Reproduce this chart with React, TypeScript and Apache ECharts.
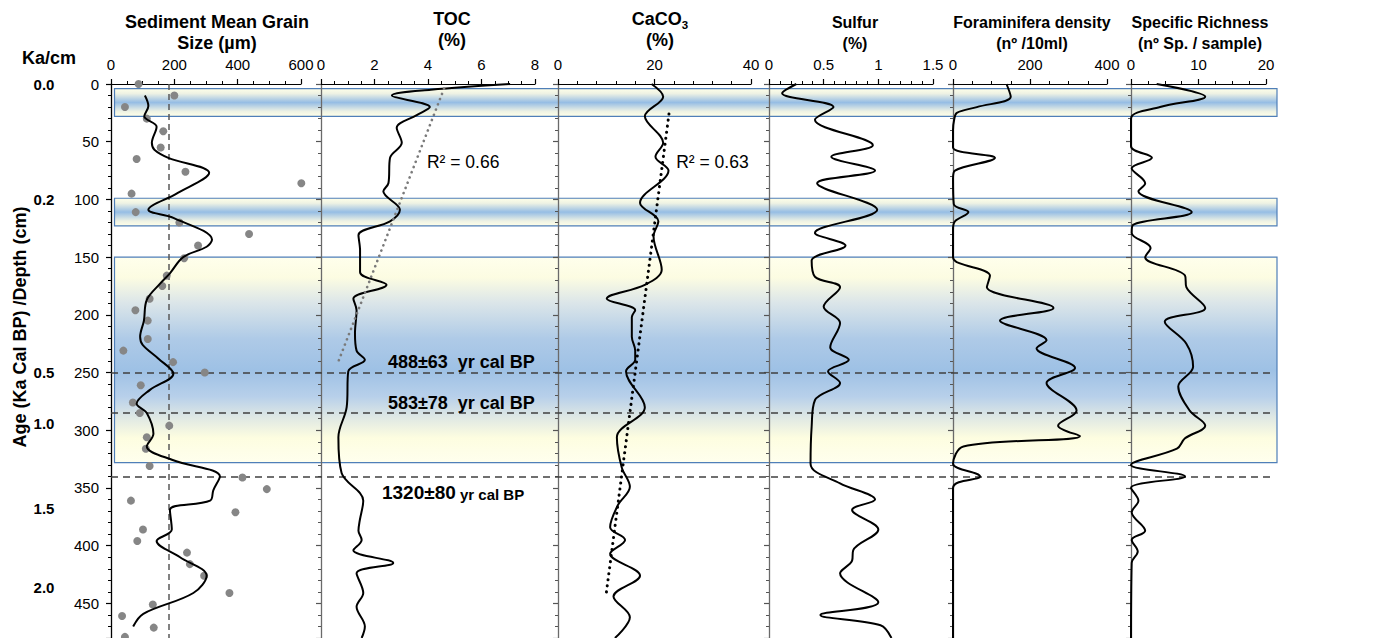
import React, { useEffect, useRef } from "react";
import * as echarts from "echarts";

// ---------- DATA ----------
const grainPtDepth = [0, 10, 20, 30, 41, 55, 65, 76, 86, 95, 111, 120, 130, 140, 151, 166, 175, 186, 196, 205, 221, 231, 241, 250, 261, 276, 285, 296, 306, 316, 331, 341, 351, 361, 371, 386, 396, 406, 416, 426, 441, 451, 461, 471, 479];
const grainPtValue = [87, 200, 44, 113, 165, 157, 81, 235, 601, 65, 78, 216, 436, 275, 231, 176, 162, 122, 77, 116, 116, 39, 196, 296, 94, 69, 91, 184, 113, 110, 122, 415, 492, 63, 393, 101, 83, 240, 249, 294, 374, 132, 35, 135, 44];

const grainLineDepth = [10, 19, 28, 37, 51, 57, 64, 77, 95, 109, 116, 135, 141, 150, 164, 173, 187, 205, 219, 226, 238, 251, 265, 277, 285, 303, 314, 326, 340, 352, 361, 369, 386, 396, 410, 426, 441, 459, 470];
const grainLineValue = [107, 118, 105, 144, 129, 137, 181, 310, 207, 118, 197, 319, 302, 228, 186, 155, 113, 104, 92, 100, 150, 197, 123, 81, 113, 134, 113, 197, 344, 323, 313, 186, 192, 144, 218, 302, 260, 102, 70];
const grainMean = [183];

const tocDepth = [0, 5, 10, 20, 27, 38, 51, 64, 86, 93, 109, 119, 131, 144, 163, 174, 186, 196, 216, 231, 239, 249, 280, 306, 337, 361, 378, 387, 395, 404, 415, 424, 441, 453, 470, 480];
const tocValue = [7.07, 4.1, 2.65, 4.07, 3.58, 2.83, 3.02, 2.58, 2.52, 2.33, 2.95, 2.58, 1.4, 1.46, 1.46, 2.45, 1.21, 1.33, 1.27, 1.33, 1.64, 1.02, 0.96, 0.65, 0.77, 1.58, 1.45, 1.4, 1.52, 1.21, 2.7, 1.33, 1.58, 1.33, 1.64, 1.52];
const tocTrendDepth = [4, 241];
const tocTrendValue = [4.6, 0.64];

const caco3Depth = [0, 11, 28, 51, 63, 75, 103, 119, 132, 161, 174, 186, 196, 202, 219, 231, 239, 249, 280, 306, 332, 349, 365, 384, 395, 407, 426, 444, 462, 480];
const caco3Value = [19.4, 21.8, 18.0, 21.8, 20.2, 22.9, 17.0, 20.8, 19.8, 21.5, 18.0, 10.1, 16.0, 15.3, 15.3, 16.0, 16.0, 14.1, 18.0, 12.2, 13.2, 14.9, 12.4, 10.8, 13.9, 10.8, 17.0, 11.5, 14.9, 11.8];
const caco3TrendDepth = [26, 443];
const caco3TrendValue = [23.0, 9.95];

const sulfurDepth = [0, 8, 20, 31, 53, 63, 75, 86, 109, 129, 140, 153, 167, 176, 193, 207, 228, 239, 249, 259, 274, 297, 329, 346, 360, 369, 386, 404, 413, 424, 449, 460, 469, 480];
const sulfurValue = [0.25, 0.12, 0.59, 0.42, 0.95, 0.57, 0.97, 0.44, 0.99, 0.42, 0.7, 0.39, 0.42, 0.65, 0.5, 0.65, 0.56, 0.73, 0.54, 0.65, 0.42, 0.39, 0.38, 0.65, 0.97, 0.76, 1.0, 0.77, 0.76, 0.65, 1.0, 0.47, 1.02, 1.12];

const foramDepth = [0, 11, 20, 25, 31, 40, 55, 64, 75, 82, 104, 111, 119, 126, 150, 166, 176, 194, 205, 222, 229, 246, 259, 283, 296, 305, 314, 329, 340, 350, 480];
const foramValue = [139, 150, 62, 10, 3, 0, 0, 109, 5, 0, 2, 40, 5, 0, 0, 96, 88, 261, 122, 243, 217, 317, 243, 321, 273, 330, 27, 0, 70, 0, 0];

const richDepth = [0, 11, 20, 30, 54, 64, 73, 86, 93, 111, 122, 129, 142, 150, 166, 176, 194, 206, 225, 245, 262, 283, 296, 307, 316, 330, 340, 350, 361, 371, 387, 395, 405, 415, 480];
const richValue = [3.8, 11.0, 4.3, 0, 0, 3.1, 0.1, 2.1, 1.1, 9.0, 0.3, 0.1, 2.9, 2.1, 8.0, 8.2, 11.0, 5.0, 8.2, 9.2, 7.0, 8.7, 11.0, 8.0, 6.8, 0, 8.0, 0, 1.1, 0.1, 2.1, 0.1, 1.0, 0.1, 0];

const bandTop = [4, 99, 150];
const bandBottom = [28, 123, 328];
const datedDepth = [250, 285, 340];

const ageLabels = ["0.0", "0.2", "0.5", "1.0", "1.5", "2.0"];
const ageDepth = [0, 100, 250, 294, 368, 436];

const dateText = ["488±63", "583±78", "1320±80"];
const dateDepth = [241, 276, 354];
const dateToc = [2.5, 2.5, 2.28];

const r2Text = ["R² = 0.66", "R² = 0.63"];
const r2Depth = [68, 68];
const r2Value = [3.96, 24.5];

const titles = [
  ["Sediment Mean Grain", "Size (µm)"],
  ["TOC", "(%)"],
  ["CaCO3", "(%)"],
  ["Sulfur", "(%)"],
  ["Foraminifera density", "(nº /10ml)"],
  ["Specific Richness", "(nº Sp. / sample)"],
];

// ---------- LAYOUT ----------
const FONT = "'Liberation Sans', Arial, Helvetica, sans-serif";
const TOP = 84;
const H = 554;
const panels = [
  { left: 111, width: 190, min: 0, max: 600, interval: 200, minor: 4, tc: 217, ty: 22, fs: 18 },
  { left: 321, width: 214, min: 0, max: 8, interval: 2, minor: 4, tc: 452, ty: 19, fs: 18 },
  { left: 558, width: 193, min: 0, max: 40, interval: 20, minor: 5, tc: 660, ty: 19, fs: 18 },
  { left: 769, width: 164, min: 0, max: 1.5, interval: 0.5, minor: 5, tc: 855, ty: 22, fs: 16 },
  { left: 953, width: 154, min: 0, max: 400, interval: 200, minor: 4, tc: 1032, ty: 22, fs: 16 },
  { left: 1131, width: 135, min: 0, max: 20, interval: 10, minor: 4, tc: 1200, ty: 22, fs: 16 },
];

const pair = (vals: number[], depths: number[]) => vals.map((v, i) => [v, depths[i]]);

const narrowGrad = () =>
  new echarts.graphic.LinearGradient(0, 0, 0, 1, [
    { offset: 0, color: "#FFFFE8" },
    { offset: 0.18, color: "#EEF2E4" },
    { offset: 0.5, color: "#96BDE4" },
    { offset: 0.82, color: "#EEF2E4" },
    { offset: 1, color: "#FFFFE8" },
  ]);
const wideGrad = () =>
  new echarts.graphic.LinearGradient(0, 0, 0, 1, [
    { offset: 0, color: "#FFFFEC" },
    { offset: 0.1, color: "#FCFCE2" },
    { offset: 0.22, color: "#DCE6E9" },
    { offset: 0.4, color: "#AECAE7" },
    { offset: 0.55, color: "#9EC1E5" },
    { offset: 0.68, color: "#B8D0EA" },
    { offset: 0.78, color: "#DFE8E4" },
    { offset: 0.88, color: "#FDFDE0" },
    { offset: 1, color: "#FFFFEE" },
  ]);

function buildOption() {
  const grid: any[] = panels.map((p) => ({ left: p.left, top: TOP, width: p.width, height: H }));
  grid.push({ left: 111, top: TOP, width: 1166, height: H });

  const xAxis: any[] = panels.map((p, i) => ({
    gridIndex: i,
    type: "value",
    position: "top",
    min: p.min,
    max: p.max,
    interval: p.interval,
    axisLine: { show: true, lineStyle: { color: "#000", width: 1.2 } },
    axisTick: { show: true, length: 5, lineStyle: { color: "#000", width: 1.2 } },
    minorTick: { show: true, splitNumber: p.minor, length: 3, lineStyle: { color: "#000", width: 1 } },
    axisLabel: { fontSize: 15, color: "#000", margin: 12, fontFamily: FONT },
    splitLine: { show: false },
    minorSplitLine: { show: false },
    z: 4,
  }));
  xAxis.push({ gridIndex: 6, type: "value", min: 0, max: 1, show: false });

  const yAxis: any[] = panels.map((p, i) => ({
    gridIndex: i,
    type: "value",
    inverse: true,
    min: 0,
    max: 480,
    interval: 50,
    axisLine: { show: true, onZero: false, lineStyle: { color: i === 0 ? "#000" : "#6a6a6a", width: 1.3 } },
    axisTick: { show: true, length: 5, lineStyle: { color: i === 0 ? "#000" : "#555", width: 1.2 } },
    minorTick: { show: true, splitNumber: 5, length: 3, lineStyle: { color: i === 0 ? "#000" : "#555", width: 1 } },
    axisLabel: { show: i === 0, fontSize: 15, color: "#000", margin: 12, fontFamily: FONT, showMaxLabel: false },
    splitLine: { show: false },
    minorSplitLine: { show: false },
    z: 4,
  }));
  yAxis.push({ gridIndex: 6, type: "value", inverse: true, min: 0, max: 480, show: false });

  const lineSeries = (idx: number, vals: number[], depths: number[], extra: any = {}) => ({
    type: "line",
    xAxisIndex: idx,
    yAxisIndex: idx,
    data: pair(vals, depths),
    smooth: 0.35,
    symbol: "none",
    showSymbol: false,
    lineStyle: { color: "#000", width: 2 },
    z: 6,
    silent: true,
    ...extra,
  });

  const textScatter = (idx: number, data: any[], label: any) => ({
    type: "scatter",
    xAxisIndex: idx,
    yAxisIndex: idx,
    data,
    symbolSize: 0,
    clip: false,
    silent: true,
    z: 7,
    itemStyle: { opacity: 1, color: "#000" },
    label: { show: true, opacity: 1, ...label },
  });

  const series: any[] = [
    {
      type: "scatter",
      xAxisIndex: 6,
      yAxisIndex: 6,
      data: [[0, 0]],
      symbolSize: 0,
      z: 0,
      silent: true,
      markArea: {
        silent: true,
        data: bandTop.map((t, i) => [
          {
            coord: [0.003, t],
            itemStyle: { color: i === 2 ? wideGrad() : narrowGrad(), borderColor: "#4F7FB8", borderWidth: 1.2, opacity: 1 },
          },
          { coord: [1, bandBottom[i]] },
        ]),
      },
    },
    {
      type: "scatter",
      xAxisIndex: 6,
      yAxisIndex: 6,
      data: [[0, 0]],
      symbolSize: 0,
      z: 1,
      silent: true,
      markLine: {
        silent: true,
        symbol: ["none", "none"],
        label: { show: false },
        lineStyle: { type: [7, 5], color: "#404040", width: 1.5, opacity: 1 },
        data: datedDepth.map((d) => [{ coord: [0, d] }, { coord: [0.994, d] }]),
      },
    },
    {
      type: "scatter",
      xAxisIndex: 0,
      yAxisIndex: 0,
      data: pair(grainPtValue, grainPtDepth),
      symbolSize: 8,
      itemStyle: { color: "#868686", opacity: 1 },
      clip: false,
      z: 5,
      silent: true,
    },
    lineSeries(0, grainLineValue, grainLineDepth, {
      markLine: {
        silent: true,
        symbol: ["none", "none"],
        label: { show: false },
        lineStyle: { type: [6, 4], color: "#595959", width: 1.5, opacity: 1 },
        data: grainMean.map((m) => ({ xAxis: m })),
      },
    }),
    lineSeries(1, tocValue, tocDepth),
    lineSeries(1, tocTrendValue, tocTrendDepth, {
      smooth: false,
      lineStyle: { color: "#7a7a7a", width: 2.6, type: [0.1, 5.5], cap: "round" },
    }),
    lineSeries(2, caco3Value, caco3Depth),
    lineSeries(2, caco3TrendValue, caco3TrendDepth, {
      smooth: false,
      lineStyle: { color: "#000", width: 3, type: [0.1, 6], cap: "round" },
    }),
    lineSeries(3, sulfurValue, sulfurDepth),
    lineSeries(4, foramValue, foramDepth),
    lineSeries(5, richValue, richDepth),
    // age labels
    textScatter(
      0,
      ageLabels.map((t, i) => ({ value: [0, ageDepth[i]], name: t })),
      {
        position: "inside",
        offset: [-67, 0],
        formatter: (p: any) => p.name,
        fontSize: 15,
        fontWeight: "bold",
        color: "#000",
        fontFamily: FONT,
      }
    ),
    // date annotations
    textScatter(
      1,
      dateText.map((t, i) => ({ value: [dateToc[i], dateDepth[i]], name: t })),
      {
        position: "right",
        distance: 0,
        formatter: (p: any) =>
          p.dataIndex === 2 ? `{big|${p.name}}{small| yr cal BP}` : `{mid|${p.name}}{mid|  yr cal BP}`,
        rich: {
          big: { fontSize: 19, fontWeight: "bold", color: "#000", fontFamily: FONT },
          small: { fontSize: 15, fontWeight: "bold", color: "#000", fontFamily: FONT, padding: [3, 0, 0, 0] },
          mid: { fontSize: 18, fontWeight: "bold", color: "#000", fontFamily: FONT },
        },
      }
    ),
    textScatter(1, [{ value: [r2Value[0], r2Depth[0]], name: r2Text[0] }], {
      position: "right",
      distance: 0,
      formatter: (p: any) => p.name,
      fontSize: 17.5,
      color: "#000",
      fontFamily: FONT,
    }),
    textScatter(2, [{ value: [r2Value[1], r2Depth[1]], name: r2Text[1] }], {
      position: "right",
      distance: 0,
      formatter: (p: any) => p.name,
      fontSize: 17.5,
      color: "#000",
      fontFamily: FONT,
    }),
  ];

  const graphic: any[] = [];
  panels.forEach((p, i) => {
    const [l1, l2] = titles[i];
    if (l1 === "CaCO3") {
      graphic.push({
        type: "text",
        x: p.tc,
        y: p.ty,
        style: {
          text: "{a|CaCO}{s|3}",
          align: "center",
          verticalAlign: "middle",
          rich: {
            a: { fontSize: p.fs, fontWeight: "bold", fontFamily: FONT, fill: "#000", lineHeight: 24, verticalAlign: "middle" },
            s: { fontSize: 11.5, fontWeight: "bold", fontFamily: FONT, fill: "#000", lineHeight: 13, verticalAlign: "bottom" },
          },
        },
      });
    } else {
      graphic.push({
        type: "text",
        x: p.tc,
        y: p.ty,
        style: { text: l1, align: "center", verticalAlign: "middle", fontSize: p.fs, fontWeight: "bold", fontFamily: FONT, fill: "#000" },
      });
    }
    graphic.push({
      type: "text",
      x: p.tc,
      y: p.ty + 21,
      style: { text: l2, align: "center", verticalAlign: "middle", fontSize: p.fs, fontWeight: "bold", fontFamily: FONT, fill: "#000" },
    });
  });
  graphic.push({
    type: "text",
    x: 49,
    y: 58,
    style: { text: "Ka/cm", align: "center", verticalAlign: "middle", fontSize: 18, fontWeight: "bold", fontFamily: FONT, fill: "#000" },
  });
  graphic.push({
    type: "text",
    x: 20,
    y: 327,
    rotation: Math.PI / 2,
    style: {
      text: "Age (Ka Cal BP) /Depth (cm)",
      align: "center",
      verticalAlign: "middle",
      fontSize: 18,
      fontWeight: "bold",
      fontFamily: FONT,
      fill: "#000",
    },
  });

  return {
    animation: false,
    backgroundColor: "#fff",
    textStyle: { fontFamily: FONT },
    grid,
    xAxis,
    yAxis,
    series,
    graphic,
  };
}

export default function App() {
  const ref = useRef<HTMLDivElement>(null);
  useEffect(() => {
    if (!ref.current) return;
    const chart = echarts.init(ref.current, undefined, { renderer: "svg" });
    chart.setOption(buildOption());
    return () => chart.dispose();
  }, []);
  return (
    <div
      ref={ref}
      style={{ position: "absolute", left: 0, top: 0, width: 1384, height: 638, background: "#fff" }}
    />
  );
}
